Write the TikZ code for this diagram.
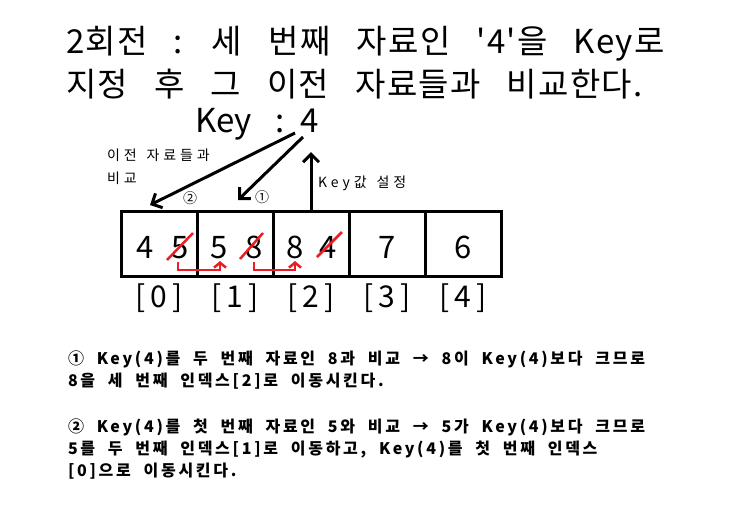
\documentclass[tikz,border=0pt]{standalone}
\usepackage{fontspec}
\setmainfont{Noto Sans CJK KR}
\newfontfamily\ttlfont{Noto Sans CJK KR}[LetterSpace=4,WordSpace=3.0,Ligatures=TeXOff]
\newfontfamily\botfont{Noto Sans CJK KR}[LetterSpace=17,WordSpace=2.0]
\newfontfamily\lblfont{Noto Sans CJK KR}[LetterSpace=28,WordSpace=1.4]
\usetikzlibrary{arrows.meta}
\definecolor{pred}{RGB}{237,28,36}
\begin{document}
\begin{tikzpicture}[x=1pt,y=-1pt,
  every node/.style={inner sep=0pt,outer sep=0pt},
  ttl/.style={anchor=base west,font=\ttlfont\fontsize{33}{33}\selectfont},
  bot/.style={anchor=base west,font=\botfont\bfseries\fontsize{16}{16}\selectfont},
  lbl/.style={anchor=base west,font=\lblfont\fontsize{14}{14}\selectfont},
  cell/.style={draw,line width=3pt,minimum width=76pt,minimum height=65pt},
  dig/.style={anchor=base,font=\fontsize{31}{31}\selectfont},
  idx/.style={anchor=base,font=\fontsize{30}{30}\selectfont},
  keyf/.style={font=\fontsize{33}{33}\selectfont},
  circ/.style={font=\fontsize{14}{14}\selectfont},
  blkarr/.style={line width=3pt,-{Straight Barb[length=8pt,width=16pt,line width=3pt]}},
  redline/.style={draw=pred,line width=2.5pt},
  redarr/.style={draw=pred,line width=2.5pt,-{Straight Barb[length=5pt,width=12pt,line width=2.5pt]}},
]
\fill[white] (0,0) rectangle (734,515);
\useasboundingbox (0,0) rectangle (734,515);

% title
\node[ttl] (t1) at (66,53) {2회전 : 세 번째 자료인 '4'을 Key로};
\node[ttl] (t2) at (66,96) {지정 후 그 이전 자료들과 비교한다.};

% key
\node[keyf,anchor=base west] (keylbl) at (195,132) {Key};
\node[keyf,anchor=base] (keycol) at (280,132) {:};
\node[keyf,anchor=base] (keyval) at (310,132) {4};

% cells
\node[cell] (c0) at (159,243.5) {};
\node[cell] (c1) at (235,243.5) {};
\node[cell] (c2) at (311,243.5) {};
\node[cell] (c3) at (387,243.5) {};
\node[cell] (c4) at (463,243.5) {};

% digits
\node[dig] (d0a) at (145,258) {4};
\node[dig] (d0b) at (180,258) {5};
\node[dig] (d1a) at (219,258) {5};
\node[dig] (d1b) at (254,258) {8};
\node[dig] (d2a) at (295,258) {8};
\node[dig] (d2b) at (328,258) {4};
\node[dig] (d3) at (387,258) {7};
\node[dig] (d4) at (463,258) {6};

% red strikes
\draw[redline] ([shift={(-13,2)}]d0b.base) -- ([shift={(13,-25)}]d0b.base);
\draw[redline] ([shift={(-14,1)}]d1b.base) -- ([shift={(9,-25)}]d1b.base);
\draw[redline] ([shift={(-11,-1)}]d2b.base) -- ([shift={(14,-26)}]d2b.base);

% red moves
\draw[redarr] ([shift={(-2,4)}]d0b.base) -- ++(0,8) -| ([shift={(1,3)}]d1a.base);
\draw[redarr] ([shift={(0,4)}]d1b.base) -- ++(0,8) -| ([shift={(0,3)}]d2a.base);

% indices
\node[idx] (i0) at (159,307) {[\hspace{5pt}0\hspace{5pt}]};
\node[idx] (i1) at (235,307) {[\hspace{5pt}1\hspace{5pt}]};
\node[idx] (i2) at (311,307) {[\hspace{5pt}2\hspace{5pt}]};
\node[idx] (i3) at (387,307) {[\hspace{5pt}3\hspace{5pt}]};
\node[idx] (i4) at (463,307) {[\hspace{5pt}4\hspace{5pt}]};

% arrows
\coordinate (a2) at (150,205);
\coordinate (a1) at (238,200);
\coordinate (kup) at (311,152);
\draw[blkarr] ([shift={(-15,1)}]keyval.base) -- (a2);
\draw[blkarr] ([shift={(-7,5)}]keyval.base) -- (a1);
\draw[blkarr] (c2.north) -- (kup);

% labels
\node[lbl] (cmp1) at (107,160) {이전 자료들과};
\node[lbl] (cmp2) at (107,183) {비교};
\node[lbl] (kset) at (318,187) {Key값 설정};
\node[circ] (n2) at (190,198) {②};
\node[circ] (n1) at (262,197) {①};

% explanation
\node[bot] (b1) at (68,364) {① Key(4)를 두 번째 자료인 8과 비교 → 8이 Key(4)보다 크므로};
\node[bot] (b2) at (68,386) {8을 세 번째 인덱스[2]로 이동시킨다.};
\node[bot] (b3) at (68,432) {② Key(4)를 첫 번째 자료인 5와 비교 → 5가 Key(4)보다 크므로};
\node[bot] (b4) at (68,454) {5를 두 번째 인덱스[1]로 이동하고, Key(4)를 첫 번째 인덱스};
\node[bot] (b5) at (68,476) {[0]으로 이동시킨다.};
\end{tikzpicture}
\end{document}
